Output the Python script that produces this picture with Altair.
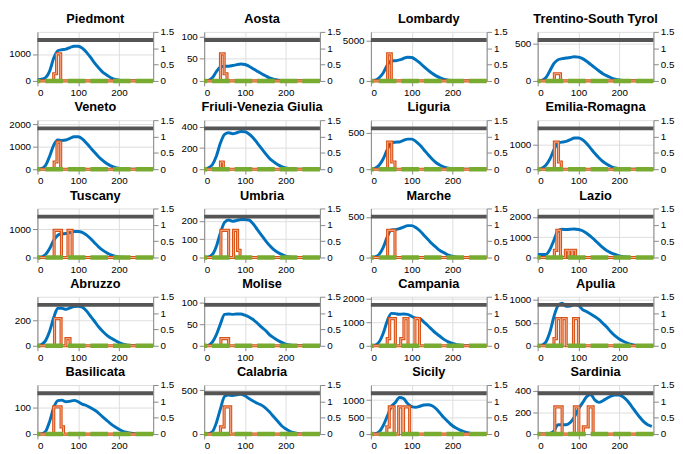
import altair as alt
import pandas as pd

DAYS = list(range(0, 290, 10))
X_MAX = 284
X_TICKS = [0, 100, 200]
RIGHT_TICKS = [0, 0.5, 1, 1.5]
BUSY_LEVEL = 1.25

REGIONS = ["Piedmont", "Aosta", "Lombardy", "Trentino-South Tyrol",
           "Veneto", "Friuli-Venezia Giulia", "Liguria", "Emilia-Romagna",
           "Tuscany", "Umbria", "Marche", "Lazio",
           "Abruzzo", "Molise", "Campania", "Apulia",
           "Basilicata", "Calabria", "Sicily", "Sardinia"]

Y_MAX = [1820, 110, 6050, 660, 2180, 465, 670, 1975, 1740, 268,
         606, 2420, 390, 114, 2090, 1070, 182, 560, 1445, 450]
Y_TICKS = [[0, 1000], [0, 50, 100], [0, 5000], [0, 500],
           [0, 1000, 2000], [0, 200, 400], [0, 500], [0, 1000],
           [0, 1000], [0, 100, 200], [0, 500], [0, 1000, 2000],
           [0, 200], [0, 50, 100], [0, 1000, 2000], [0, 500, 1000],
           [0, 100], [0, 500], [0, 500, 1000], [0, 200, 400]]

CASES_PIEDMONT = [50, 60, 120, 365, 850, 1120, 1160, 1180, 1240, 1290, 1290, 1220, 1070, 880, 670, 490, 330, 220, 120, 60, 30, 10, 0, 0, 0, 0, 0, 0, 0]
CASES_AOSTA = [0, 1, 7, 21, 31, 33, 33, 34.5, 36.5, 38, 37, 33, 27.6, 22, 16.5, 11.7, 7, 4, 2, 1, 0, 0, 0, 0, 0, 0, 0, 0, 0]
CASES_LOMBARDY = [20, 80, 390, 975, 1950, 2460, 2500, 2600, 2770, 2930, 2890, 2620, 2230, 1760, 1330, 940, 625, 390, 195, 100, 40, 10, 0, 0, 0, 0, 0, 0, 0]
CASES_TRENTINO = [0, 8, 43, 137, 235, 286, 300, 308, 316, 325, 320, 300, 265, 222, 180, 137, 98, 68, 43, 25, 12, 5, 0, 0, 0, 0, 0, 0, 0]
CASES_VENETO = [20, 30, 170, 580, 1070, 1300, 1280, 1300, 1375, 1440, 1440, 1350, 1170, 960, 750, 555, 390, 250, 150, 80, 40, 15, 0, 0, 0, 0, 0, 0, 0]
CASES_FRIULI = [0, 12, 42, 125, 250, 330, 345, 337, 346, 358, 355, 334, 298, 250, 200, 150, 104, 72, 45, 25, 12, 5, 0, 0, 0, 0, 0, 0, 0]
CASES_LIGURIA = [0, 13, 55, 140, 267, 360, 369, 373, 394, 411, 411, 381, 330, 267, 200, 140, 89, 55, 30, 15, 6, 2, 0, 0, 0, 0, 0, 0, 0]
CASES_EMILIA = [0, 37, 160, 410, 790, 1060, 1090, 1125, 1190, 1260, 1260, 1190, 1040, 840, 640, 460, 310, 200, 110, 55, 25, 8, 0, 0, 0, 0, 0, 0, 0]
CASES_TUSCANY = [0, 20, 105, 316, 610, 790, 840, 850, 885, 925, 925, 895, 800, 675, 525, 380, 263, 170, 95, 50, 20, 8, 0, 0, 0, 0, 0, 0, 0]
CASES_UMBRIA = [0, 3, 16, 62, 135, 192, 205, 198, 203, 208, 208, 205, 184, 154, 124, 94, 67, 45, 29, 17, 8, 3, 0, 0, 0, 0, 0, 0, 0]
CASES_MARCHE = [0, 8, 38, 121, 254, 341, 345, 356, 375, 394, 394, 371, 330, 276, 223, 170, 125, 83, 57, 30, 15, 5, 0, 0, 0, 0, 0, 0, 0]
CASES_LAZIO = [150, 150, 150, 390, 860, 1320, 1390, 1380, 1390, 1410, 1380, 1320, 1200, 1045, 860, 670, 485, 330, 230, 150, 80, 40, 15, 0, 0, 0, 0, 0, 0]
CASES_ABRUZZO = [0, 10, 41, 115, 224, 298, 298, 290, 302, 312, 315, 307, 278, 237, 195, 151, 115, 85, 61, 44, 25, 12, 5, 0, 0, 0, 0, 0, 0]
CASES_MOLISE = [0, 1, 8.5, 26, 51, 73, 74, 73, 74, 74, 71, 67, 61, 53, 44, 36, 26, 19, 13, 8, 4, 2, 0, 0, 0, 0, 0, 0, 0]
CASES_CAMPANIA = [0, 25, 160, 525, 1050, 1380, 1370, 1340, 1355, 1340, 1250, 1180, 1160, 1010, 855, 685, 525, 395, 263, 170, 100, 50, 20, 5, 0, 0, 0, 0, 0]
CASES_APULIA = [0, 13, 80, 300, 640, 880, 930, 860, 865, 900, 880, 790, 745, 695, 640, 575, 490, 405, 300, 215, 150, 100, 60, 30, 10, 0, 0, 0, 0]
CASES_BASILICATA = [0, 1, 10, 47, 98, 124, 126, 120, 122, 125, 120, 111, 106, 98, 89, 78, 64, 51, 38, 27, 18, 10, 6, 3, 1, 0, 0, 0, 0]
CASES_CALABRIA = [0, 3, 25, 130, 290, 430, 447, 440, 447, 454, 437, 405, 377, 352, 331, 300, 254, 200, 148, 95, 60, 32, 15, 5, 0, 0, 0, 0, 0]
CASES_SICILY = [0, 9, 64, 245, 520, 810, 930, 1080, 1045, 900, 810, 790, 820, 855, 865, 835, 745, 610, 470, 355, 245, 173, 110, 64, 35, 15, 5, 0, 0]
CASES_SARDINIA = [0, 0, 0, 5, 28, 86, 86, 86, 106, 157, 229, 286, 343, 363, 314, 291, 306, 329, 349, 357, 357, 340, 306, 257, 206, 157, 114, 86, 71]

CASES = [CASES_PIEDMONT, CASES_AOSTA, CASES_LOMBARDY, CASES_TRENTINO,
         CASES_VENETO, CASES_FRIULI, CASES_LIGURIA, CASES_EMILIA,
         CASES_TUSCANY, CASES_UMBRIA, CASES_MARCHE, CASES_LAZIO,
         CASES_ABRUZZO, CASES_MOLISE, CASES_CAMPANIA, CASES_APULIA,
         CASES_BASILICATA, CASES_CALABRIA, CASES_SICILY, CASES_SARDINIA]

STEP_X = [[0, 40, 47, 57, 284], [0, 40, 49, 56, 284], [0, 41, 50, 284], [0, 41, 56, 284],
          [0, 41, 48, 57, 284], [0, 40, 47, 284], [0, 41, 51, 59, 284], [0, 41, 51, 58, 284],
          [0, 41, 59, 75, 85, 284], [0, 41, 60, 72, 82, 88, 284], [0, 41, 59, 284],
          [0, 41, 47, 56, 68, 75, 77, 84, 86, 93, 284],
          [0, 42, 58, 70, 80, 284], [0, 41, 60, 284],
          [0, 40, 46, 60, 73, 81, 91, 108, 119, 284],
          [0, 40, 46, 56, 60, 70, 88, 100, 284],
          [0, 40, 58, 64, 284], [0, 40, 49, 65, 284],
          [0, 39, 45, 57, 68, 78, 80, 95, 284],
          [0, 42, 60, 90, 101, 112, 124, 136, 284]]
STEP_Y = [[0, 0.22, 0.83, 0, 0], [0, 0.83, 0.22, 0, 0], [0, 0.83, 0, 0], [0, 0.22, 0, 0],
          [0, 0.22, 0.83, 0, 0], [0, 0.22, 0, 0], [0, 0.83, 0.22, 0, 0], [0, 0.83, 0.22, 0, 0],
          [0, 0.83, 0, 0.83, 0, 0], [0, 0.83, 0, 0.83, 0.22, 0, 0], [0, 0.83, 0, 0],
          [0, 0.22, 0.83, 0, 0.22, 0, 0.22, 0, 0.22, 0, 0],
          [0, 0.83, 0, 0.22, 0, 0], [0, 0.22, 0, 0],
          [0, 0.22, 0.83, 0, 0.22, 0.83, 0, 0.83, 0, 0],
          [0, 0.22, 0.83, 0, 0.83, 0, 0.83, 0, 0],
          [0, 0.83, 0.22, 0, 0], [0, 0.22, 0.83, 0, 0],
          [0, 0.22, 0.83, 0, 0.83, 0, 0.83, 0, 0],
          [0, 0.83, 0, 0.83, 0, 0.22, 0.83, 0, 0]]

BLUE = "#0072BD"
ORANGE = "#D95319"
ORANGE_LIGHT = "#F3B08F"
GREEN = "#77AC30"
GREY = "#555555"
FONT = "Liberation Sans"
W, H = 118, 50


def panel(i):
    xenc = alt.X("day:Q", scale=alt.Scale(domain=[0, X_MAX], nice=False, zero=False),
                 axis=alt.Axis(values=X_TICKS, title=None, grid=True))
    rscale = alt.Scale(domain=[0, 1.5], nice=False)
    raxis = alt.Axis(values=RIGHT_TICKS, orient="right", title=None, grid=False, format="~g")
    cases_df = pd.DataFrame({"day": DAYS, "cases": CASES[i]})
    step_df = pd.DataFrame({"day": STEP_X[i], "level": STEP_Y[i]})

    blue = alt.Chart(cases_df).mark_line(color=BLUE, strokeWidth=3, interpolate="monotone",
                                          clip=True).encode(
        x=xenc,
        y=alt.Y("cases:Q", scale=alt.Scale(domain=[0, Y_MAX[i]], nice=False),
                axis=alt.Axis(values=Y_TICKS[i], orient="left", title=None, grid=True, format="d")))
    orange = alt.Chart(step_df).mark_line(color=ORANGE, strokeWidth=3.2,
                                          interpolate="step-after").encode(
        x=xenc, y=alt.Y("level:Q", scale=rscale, axis=raxis))
    orange_in = alt.Chart(step_df).mark_line(color=ORANGE_LIGHT, strokeWidth=1,
                                             interpolate="step-after").encode(
        x=xenc, y=alt.Y("level:Q", scale=rscale, axis=raxis))
    green = alt.Chart(pd.DataFrame({"level": [0.0]})).mark_rule(
        color=GREEN, strokeWidth=4.5, strokeDash=[18, 5]).encode(
        y=alt.Y("level:Q", scale=rscale, axis=raxis))
    grey = alt.Chart(pd.DataFrame({"level": [BUSY_LEVEL]})).mark_rule(
        color=GREY, strokeWidth=4).encode(
        y=alt.Y("level:Q", scale=rscale, axis=raxis))
    right = alt.layer(orange, orange_in, green, grey)
    return alt.layer(blue, right).resolve_scale(y="independent").properties(
        width=W, height=H,
        title=alt.TitleParams(REGIONS[i], fontSize=13, fontWeight="bold", font=FONT,
                              offset=1, frame="group", color="black"))


chart = alt.concat(*[panel(i) for i in range(len(REGIONS))], columns=4,
                   spacing={"row": 40, "column": 52}, bounds="flush").configure_axis(
    labelFont=FONT, labelFontSize=11, labelColor="black", domainColor="black",
    ticks=False, labelPadding=1, gridColor="#dddddd", gridWidth=1
).configure_view(stroke="black", strokeWidth=1).configure(
    background="white", padding=0)

chart.save("out.html", embed_options={"renderer": "svg", "actions": False})
